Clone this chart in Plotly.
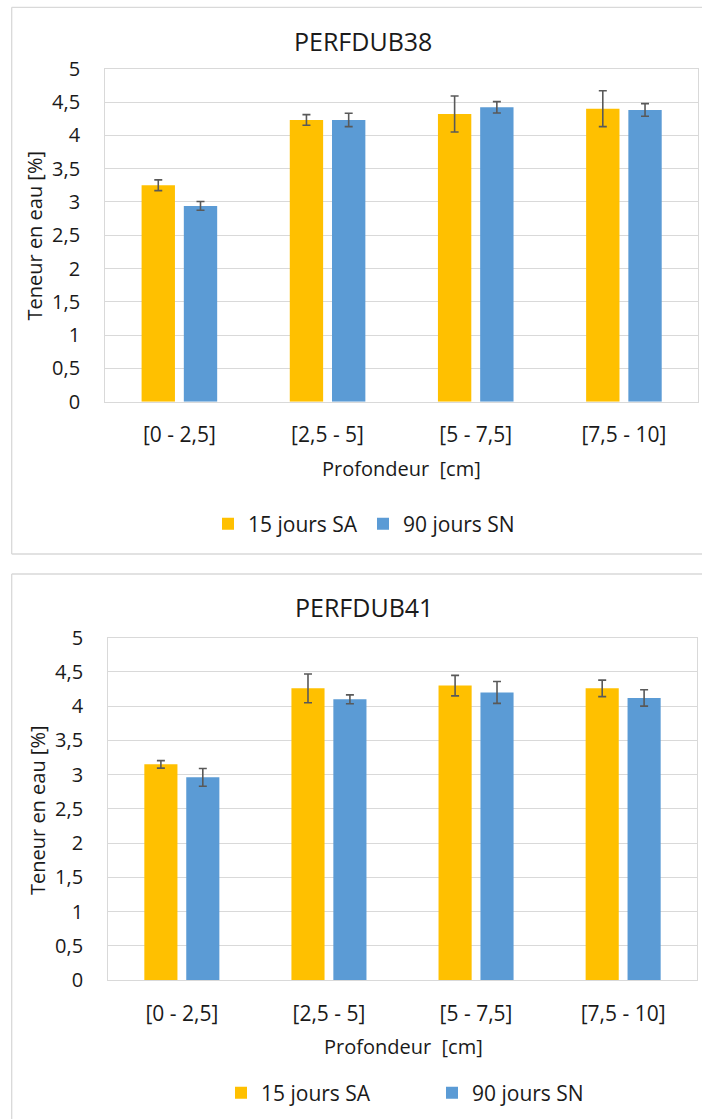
import plotly.graph_objects as go

W, H = 702, 1119

categories = ["[0 - 2,5]", "[2,5 - 5]", "[5 - 7,5]", "[7,5 - 10]"]
series_names = ["15 jours SA", "90 jours SN"]

# PERFDUB38
p38_sa = [3.25, 4.23, 4.32, 4.40]
p38_sa_err = [0.08, 0.08, 0.27, 0.27]
p38_sn = [2.94, 4.23, 4.42, 4.38]
p38_sn_err = [0.065, 0.10, 0.085, 0.095]

# PERFDUB41
p41_sa = [3.15, 4.26, 4.30, 4.26]
p41_sa_err = [0.055, 0.21, 0.15, 0.12]
p41_sn = [2.96, 4.10, 4.20, 4.12]
p41_sn_err = [0.13, 0.065, 0.16, 0.12]

ytick_vals = [0, 0.5, 1, 1.5, 2, 2.5, 3, 3.5, 4, 4.5, 5]
ytick_text = ["0", "0,5", "1", "1,5", "2", "2,5", "3", "3,5", "4", "4,5", "5"]

titles = ["PERFDUB38", "PERFDUB41"]
xtitle = "Profondeur  [cm]"
ytitle = "Teneur en eau [%]"

YELLOW = "#FFC000"
BLUE = "#5B9BD5"
ERR = "#595959"
GRID = "#d9d9d9"
TXT = "#1a1a1a"
FONT = "Open Sans"


def px_x(p):
    return p / W


def px_y(p):
    return 1 - p / H


fig = go.Figure()

datasets = [
    (p38_sa, p38_sa_err, p38_sn, p38_sn_err, "x", "y", "legend"),
    (p41_sa, p41_sa_err, p41_sn, p41_sn_err, "x2", "y2", "legend2"),
]
for sa, sa_e, sn, sn_e, xa, ya, lg in datasets:
    for name, vals, errs, col in [(series_names[0], sa, sa_e, YELLOW), (series_names[1], sn, sn_e, BLUE)]:
        fig.add_trace(go.Bar(
            x=categories, y=vals, name=name, xaxis=xa, yaxis=ya, legend=lg,
            marker=dict(color=col, line=dict(width=0)),
            error_y=dict(type="data", array=errs, visible=True, color=ERR, thickness=1.6, width=4),
        ))

axis_common = dict(
    showline=True, linecolor=GRID, linewidth=1.3, mirror=True,
    showgrid=False, zeroline=False, ticks="", automargin=False,
    tickfont=dict(family=FONT, size=20, color=TXT),
)
xtick_font = dict(family=FONT, size=21, color=TXT)

# pixel geometry of plot areas
p1 = dict(l=105.3, r=698, t=68.7, b=401.7)
p2 = dict(l=108.3, r=696.7, t=637.7, b=980)

fig.update_layout(
    width=W, height=H, autosize=False,
    margin=dict(l=0, r=0, t=0, b=0, pad=0, autoexpand=False),
    paper_bgcolor="white", plot_bgcolor="white",
    barmode="group", bargap=0.43, bargroupgap=0.21,
    showlegend=True,
    font=dict(family=FONT, color=TXT),
    xaxis=dict(domain=[px_x(p1["l"]), px_x(p1["r"])], anchor="y", ticklabelstandoff=14,
               **{**axis_common, "tickfont": xtick_font}),
    yaxis=dict(domain=[px_y(p1["b"]), px_y(p1["t"])], anchor="x", range=[0, 5],
               tickvals=ytick_vals, ticktext=ytick_text, ticklabelstandoff=20,
               **{**axis_common, "showgrid": True, "gridcolor": GRID, "gridwidth": 1.3}),
    xaxis2=dict(domain=[px_x(p2["l"]), px_x(p2["r"])], anchor="y2", ticklabelstandoff=15,
                **{**axis_common, "tickfont": xtick_font}),
    yaxis2=dict(domain=[px_y(p2["b"]), px_y(p2["t"])], anchor="x2", range=[0, 5],
                tickvals=ytick_vals, ticktext=ytick_text, ticklabelstandoff=20,
                **{**axis_common, "showgrid": True, "gridcolor": GRID, "gridwidth": 1.3}),
    legend=dict(orientation="h", x=px_x(208), y=px_y(524), xanchor="left", yanchor="middle",
                entrywidth=110, font=dict(family=FONT, size=21, color=TXT), bgcolor="rgba(0,0,0,0)"),
    legend2=dict(orientation="h", x=px_x(221), y=px_y(1093), xanchor="left", yanchor="middle",
                 entrywidth=166, font=dict(family=FONT, size=21, color=TXT), bgcolor="rgba(0,0,0,0)"),
)

annots = []
for title, cx, cy in [(titles[0], 362.5, 41), (titles[1], 363.5, 607)]:
    annots.append(dict(text=title, x=px_x(cx), y=px_y(cy), xref="paper", yref="paper",
                       showarrow=False, xanchor="center", yanchor="middle",
                       font=dict(family=FONT, size=25, color=TXT)))
for cx, cy in [(401, 468), (403, 1046)]:
    annots.append(dict(text=xtitle, x=px_x(cx), y=px_y(cy), xref="paper", yref="paper",
                       showarrow=False, xanchor="center", yanchor="middle",
                       font=dict(family=FONT, size=20, color=TXT)))
for cx, cy in [(33.5, 236), (37, 810)]:
    annots.append(dict(text=ytitle, x=px_x(cx), y=px_y(cy), xref="paper", yref="paper",
                       showarrow=False, xanchor="center", yanchor="middle", textangle=-90,
                       font=dict(family=FONT, size=20, color=TXT)))
fig.update_layout(annotations=annots)

# chart-area borders
shapes = []
for x0, y0, x1, y1 in [
    (11.7, 7.3, 11.7, 554), (11.7, 7.3, 720, 7.3), (11.7, 554, 720, 554),
    (11.7, 574, 11.7, 1130), (11.7, 574, 720, 574),
]:
    shapes.append(dict(type="line", xref="paper", yref="paper",
                       x0=px_x(x0), y0=px_y(y0), x1=px_x(x1), y1=px_y(y1),
                       line=dict(color=GRID, width=1.3)))
fig.update_layout(shapes=shapes)

post = (
    "document.documentElement.style.margin='0';"
    "document.body.style.margin='0';document.body.style.padding='0';"
    "document.documentElement.style.overflow='hidden';document.body.style.overflow='hidden';"
    "var d=document.getElementById('{plot_id}');"
    "d.style.position='absolute';d.style.left='0px';d.style.top='0px';"
)

fig.write_html("out.html", post_script=post, config={"displayModeBar": False})
